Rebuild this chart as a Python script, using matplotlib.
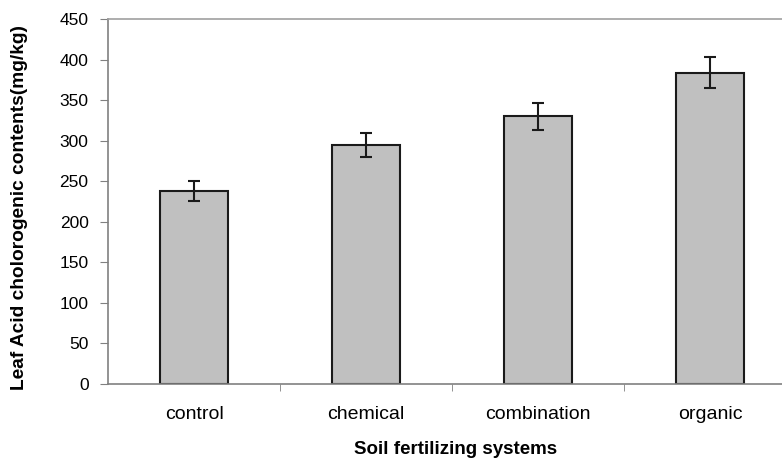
import matplotlib.pyplot as plt

plt.rcParams['font.family'] = ['Liberation Sans', 'DejaVu Sans']

systems = ['control', 'chemical', 'combination', 'organic']
acid = [238, 295, 330, 384]
err = [12, 15, 16.5, 19.5]

fig = plt.figure(figsize=(7.82, 4.59), dpi=100)
ax = fig.add_axes([108 / 782, 75 / 459, 674 / 782, 365 / 459])

x = range(len(systems))
ax.bar(x, acid, width=0.395, color='#c0c0c0', edgecolor='#1a1a1a', linewidth=1.5, zorder=2)
ax.errorbar(x, acid, yerr=err, fmt='none', ecolor='#1a1a1a', elinewidth=1.5,
            capsize=4, capthick=1.5, zorder=3)

ax.set_xlim(-0.5, -0.5 + 674 / 172)
ax.set_ylim(0, 450)
ax.set_yticks(range(0, 451, 50))
ax.set_xticks(list(x))
ax.set_xticklabels(systems, fontsize=14)
ax.set_xticks([0.5, 1.5, 2.5], minor=True)
ax.tick_params(axis='x', which='major', length=0, pad=16)
ax.tick_params(axis='x', which='minor', length=5, color='#808080', direction='out')
ax.tick_params(axis='y', length=6, color='#808080', labelsize=12.5, pad=8)

for side in ['left', 'bottom']:
    ax.spines[side].set_color('#808080')
    ax.spines[side].set_linewidth(1.2)
ax.spines['top'].set_color('#a0a0a0')
ax.spines['top'].set_linewidth(1.2)
ax.spines['right'].set_visible(False)

fig.text(456 / 782, 1 - 450 / 459, 'Soil fertilizing systems', ha='center', va='center',
         fontsize=13.5, fontweight='bold')
fig.text(20 / 782, 1 - 207 / 459, 'Leaf Acid cholorogenic contents(mg/kg)', ha='center',
         va='center', rotation=90, fontsize=13.8, fontweight='bold')

fig.savefig('out.png', dpi=100)
